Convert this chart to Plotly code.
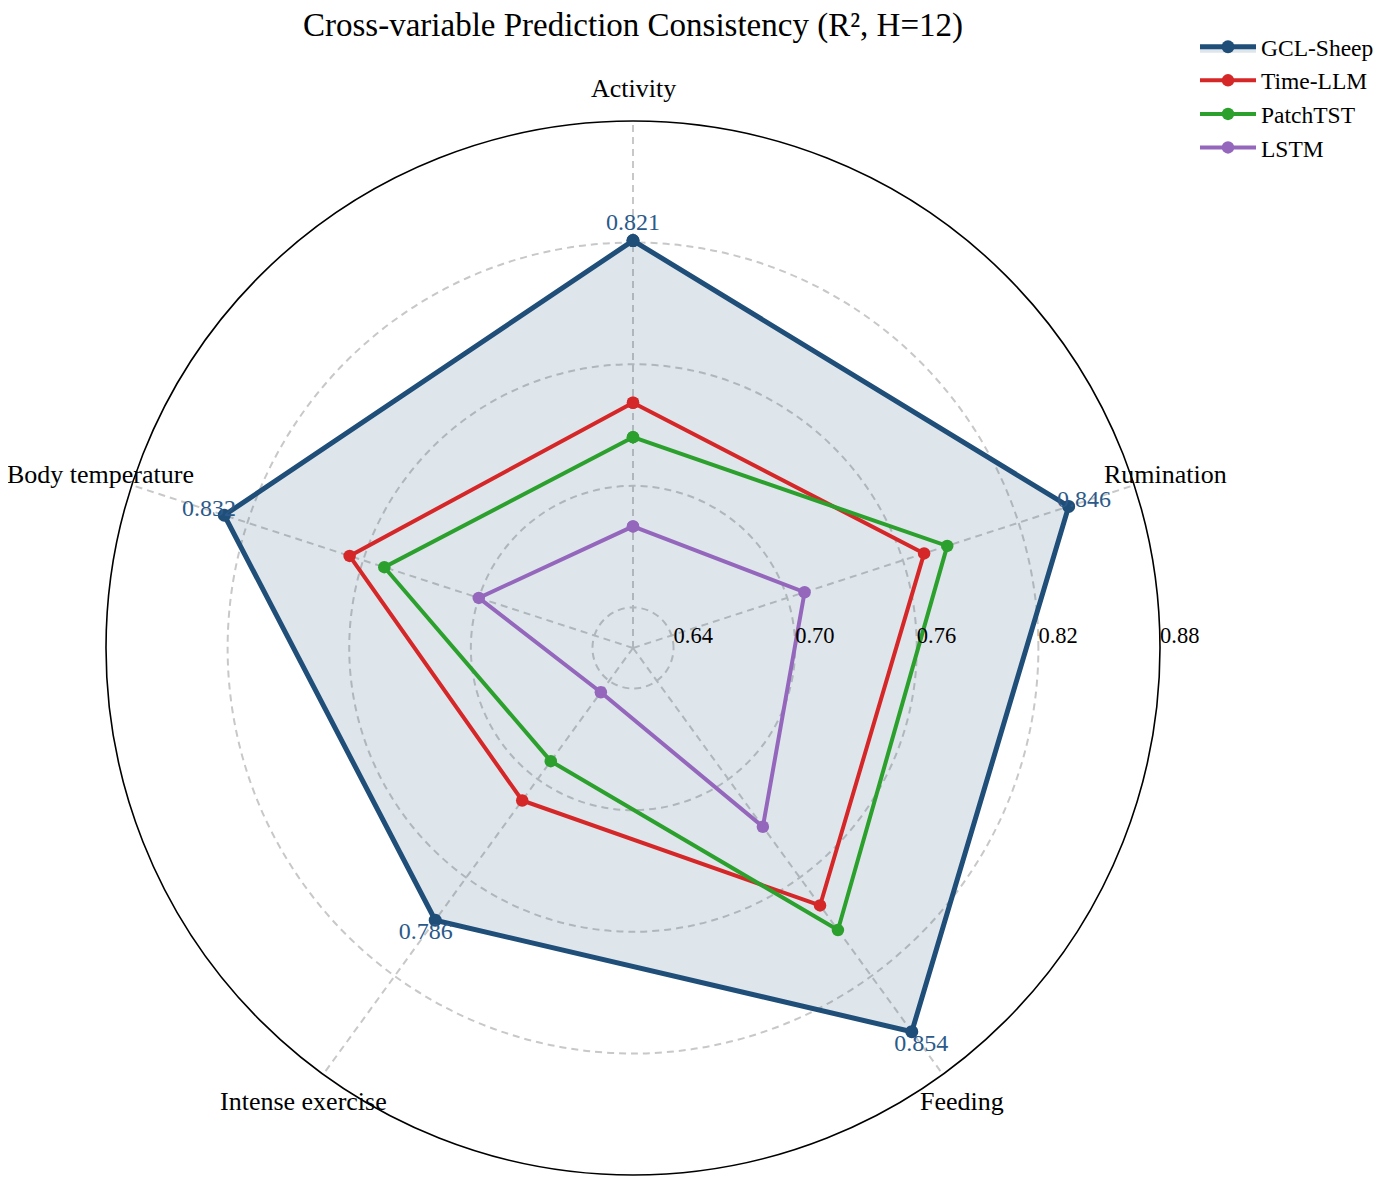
import math
import plotly.graph_objects as go

# Kategorien und Werte (R², H=12)
variablen = ["Activity", "Rumination", "Feeding", "Intense exercise", "Body temperature"]
gcl_sheep = [0.821, 0.846, 0.854, 0.786, 0.832]
time_llm = [0.741, 0.771, 0.777, 0.713, 0.767]
patchtst = [0.724, 0.783, 0.792, 0.689, 0.749]
lstm = [0.680, 0.709, 0.729, 0.647, 0.700]

radial_ticks = [0.64, 0.70, 0.76, 0.82, 0.88]
radial_range = [0.62, 0.88]

modelle = [
    ("GCL-Sheep", gcl_sheep, "#1f4e79", 5, 13),
    ("Time-LLM", time_llm, "#d62728", 4, 12.5),
    ("PatchTST", patchtst, "#2ca02c", 4, 12.5),
    ("LSTM", lstm, "#9467bd", 4, 12.5),
]

# Seitengeometrie (Seite wird mit 8px Rand angezeigt)
W, H = 1388, 1186
cx, cy, R = 625, 640, 527
label_abstand = 560  # Abstand der Achsenbeschriftung vom Mittelpunkt

fig = go.Figure()

for name, werte, farbe, breite, groesse in modelle:
    fig.add_trace(go.Scatterpolar(
        r=werte + werte[:1],
        theta=variablen + variablen[:1],
        mode="lines+markers",
        name=name,
        line=dict(color=farbe, width=breite),
        marker=dict(color=farbe, size=groesse),
        fill="toself" if name == "GCL-Sheep" else None,
        fillcolor="rgba(31,78,121,0.15)" if name == "GCL-Sheep" else None,
    ))

# Werte von GCL-Sheep an den Ecken
fig.add_trace(go.Scatterpolar(
    r=[v + 0.008 for v in gcl_sheep],
    theta=variablen,
    mode="text",
    text=[f"{v:.3f}" for v in gcl_sheep],
    textposition="middle center",
    textfont=dict(color="#2b5a8a", size=24, family="Liberation Serif"),
    showlegend=False,
    hoverinfo="skip",
    cliponaxis=False,
))

# Achsenbeschriftungen zentriert ausserhalb des Kreises (wie matplotlib)
for i, var in enumerate(variablen):
    winkel = math.radians(90 - 360 / len(variablen) * i)
    fig.add_annotation(
        x=(cx + label_abstand * math.cos(winkel)) / W,
        y=1 - (cy - label_abstand * math.sin(winkel)) / H,
        xref="paper", yref="paper",
        text=var,
        showarrow=False,
        xanchor="center", yanchor="middle",
        font=dict(size=26, color="black", family="Liberation Serif"),
    )

fig.update_layout(
    width=W,
    height=H,
    paper_bgcolor="white",
    font=dict(family="Liberation Serif", size=22, color="black"),
    title=dict(
        text="Cross-variable Prediction Consistency (R², H=12)",
        x=cx / W, xanchor="center",
        y=1 - 16 / H, yanchor="middle",
        font=dict(size=33, family="Liberation Serif", color="black"),
    ),
    margin=dict(l=0, r=0, t=0, b=0),
    polar=dict(
        domain=dict(x=[(cx - R) / W, (cx + R) / W],
                    y=[(H - cy - R) / H, (H - cy + R) / H]),
        bgcolor="white",
        radialaxis=dict(
            range=radial_range,
            tickvals=radial_ticks,
            ticktext=["\u00a0" * 7 + f"{t:.2f}" for t in radial_ticks],
            angle=0,
            side="counterclockwise",
            showline=False,
            ticks="",
            showgrid=True,
            gridcolor="#c8c8c8",
            gridwidth=1.5,
            griddash="7px,5px",
            tickfont=dict(size=22.5, color="black"),
        ),
        angularaxis=dict(
            rotation=90,
            direction="clockwise",
            showline=True,
            linecolor="black",
            linewidth=1.6,
            showgrid=True,
            gridcolor="#c8c8c8",
            gridwidth=1.5,
            griddash="7px,5px",
            ticks="",
            showticklabels=False,
        ),
    ),
    legend=dict(
        x=1187 / W, xanchor="left",
        y=1 - 17 / H, yanchor="top",
        font=dict(size=23.5),
        bgcolor="rgba(255,255,255,0)",
        itemwidth=56,
    ),
    template="simple_white",
)

fig.write_html("out.html")
